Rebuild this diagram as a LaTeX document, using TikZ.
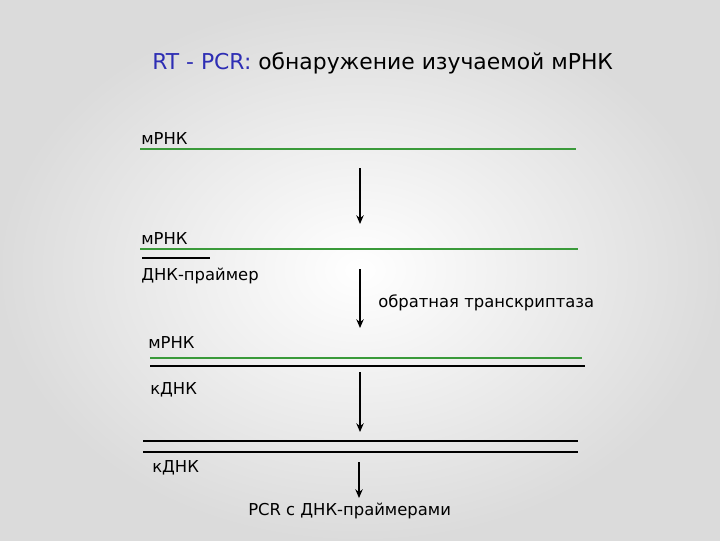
\documentclass[tikz,border=0pt]{standalone}
\usepackage{fontspec}
\setmainfont{DejaVu Sans}
\usetikzlibrary{arrows.meta}
\definecolor{titleblue}{HTML}{2E2EB4}
\definecolor{rnagreen}{HTML}{3A9A3A}
\tikzset{
  lbl/.style={anchor=base west, inner sep=0pt, font=\fontsize{12.3pt}{14pt}\selectfont},
  ttl/.style={anchor=base west, inner sep=0pt, font=\fontsize{16.4pt}{19pt}\selectfont},
  rna/.style={draw=rnagreen, line width=1.7pt},
  dna/.style={draw=black, line width=1.9pt},
  flow/.style={draw=black, line width=1.7pt, -{Stealth[length=6.5pt,width=5.5pt]}}
}
\begin{document}
\begin{tikzpicture}[x=0.75pt,y=-0.75pt]
\useasboundingbox (0,0) rectangle (720,540);
\shade[inner color=white, outer color=black!14] (0,0) rectangle (720,540);
% title
\node[ttl] (title) at (152,69) {\textcolor{titleblue}{RT - PCR:} обнаружение изучаемой мРНК};
% step 1
\node[lbl] (m1) at (141,144) {мРНК};
\coordinate (g1a) at (140,149); \coordinate (g1b) at (576,149);
\draw[rna] (g1a) -- (g1b);
\coordinate (a1s) at (360,168); \coordinate (a1e) at (360,224);
\draw[flow] (a1s) -- (a1e);
% step 2
\node[lbl] (m2) at (141,244) {мРНК};
\coordinate (g2a) at (140,249); \coordinate (g2b) at (578,249);
\draw[rna] (g2a) -- (g2b);
\coordinate (p1a) at (142,258); \coordinate (p1b) at (210,258);
\draw[dna] (p1a) -- (p1b);
\node[lbl] (primer) at (141,280) {ДНК-праймер};
\coordinate (a2s) at (360,269); \coordinate (a2e) at (360,328);
\draw[flow] (a2s) -- (a2e);
\node[lbl] (rt) at (378,307) {обратная транскриптаза};
% step 3
\node[lbl] (m3) at (148,348) {мРНК};
\coordinate (g3a) at (150,358); \coordinate (g3b) at (582,358);
\draw[rna] (g3a) -- (g3b);
\coordinate (c1a) at (150,366); \coordinate (c1b) at (585,366);
\draw[dna] (c1a) -- (c1b);
\node[lbl] (k1) at (150,394) {кДНК};
\coordinate (a3s) at (360,372); \coordinate (a3e) at (360,432);
\draw[flow] (a3s) -- (a3e);
% step 4
\coordinate (d1a) at (143,441); \coordinate (d1b) at (578,441);
\draw[dna] (d1a) -- (d1b);
\coordinate (d2a) at (143,452); \coordinate (d2b) at (578,452);
\draw[dna] (d2a) -- (d2b);
\node[lbl] (k2) at (152,472) {кДНК};
\coordinate (a4s) at (359,462); \coordinate (a4e) at (359,498);
\draw[flow] (a4s) -- (a4e);
\node[lbl] (pcr) at (248,515) {PCR с ДНК-праймерами};
\end{tikzpicture}
\end{document}
